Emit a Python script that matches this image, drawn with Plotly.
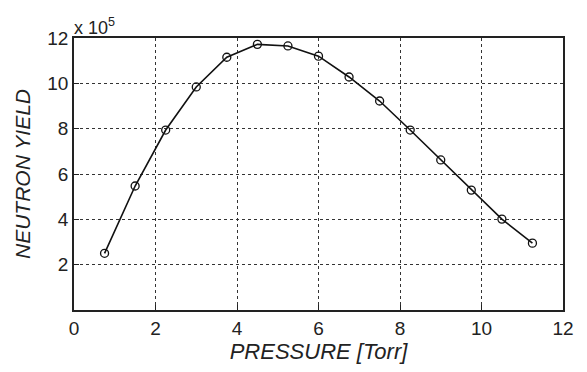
import plotly.graph_objects as go

# Pressure (Torr) and neutron yield (in units of 1e5)
pressure = [0.75, 1.5, 2.25, 3.0, 3.75, 4.5, 5.25, 6.0, 6.75, 7.5, 8.25, 9.0, 9.75, 10.5, 11.25]
neutron_yield = [2.5, 5.47, 7.94, 9.84, 11.15, 11.72, 11.65, 11.2, 10.28, 9.22, 7.94, 6.62, 5.29, 4.01, 2.95]

x_ticks = [0, 2, 4, 6, 8, 10, 12]
y_ticks = [2, 4, 6, 8, 10, 12]

font_family = "Liberation Sans, Arial, sans-serif"
ink = "#222222"

fig = go.Figure()
fig.add_trace(go.Scatter(
    x=pressure, y=neutron_yield, mode="lines+markers",
    line=dict(color="#111111", width=1.6),
    marker=dict(symbol="circle-open", size=8, color="#111111", line=dict(width=1.3)),
    showlegend=False,
))

axis_common = dict(
    showgrid=True, gridcolor="#333333", griddash="dot", gridwidth=1,
    showline=True, linecolor=ink, linewidth=1.5, mirror=True,
    ticks="inside", ticklen=5, tickcolor=ink,
    zeroline=False,
    tickfont=dict(family=font_family, size=19, color=ink),
)

fig.update_xaxes(
    range=[0, 12], tickvals=x_ticks,
    title=dict(text="<i>PRESSURE [Torr]</i>", font=dict(family=font_family, size=22, color=ink), standoff=2),
    **axis_common,
)
fig.update_yaxes(
    range=[0, 12], tickvals=y_ticks,
    title=dict(text="<i>NEUTRON YIELD</i>", font=dict(family=font_family, size=21, color=ink), standoff=11),
    **axis_common,
)

fig.add_annotation(
    x=0, y=1, xref="paper", yref="paper", xanchor="left", yanchor="bottom",
    text="x 10<sup>5</sup>", showarrow=False, yshift=-2, xshift=-2,
    font=dict(family=font_family, size=18, color=ink),
)

fig.update_layout(
    width=587, height=372,
    margin=dict(l=74, r=24, t=38, b=62),
    paper_bgcolor="white", plot_bgcolor="white",
)

fig.write_html("out.html")
